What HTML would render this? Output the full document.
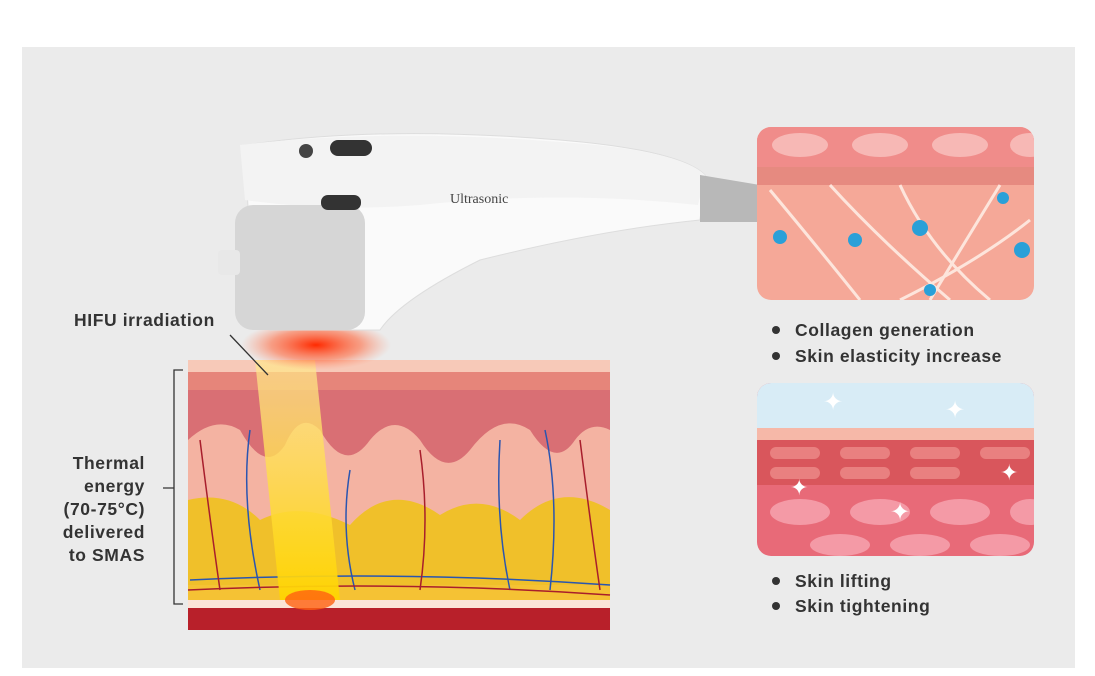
<!DOCTYPE html>
<html><head><meta charset="utf-8"><style>
body{margin:0;width:1095px;height:676px;background:#fff;position:relative;overflow:hidden;font-family:"Liberation Sans",sans-serif}
.panel{position:absolute;left:22px;top:47px;width:1053px;height:621px;background:#ebebeb}
.t{position:absolute;color:#333;font-size:17.5px;font-weight:bold;letter-spacing:0.6px}
</style></head><body>
<div class="panel"></div>
<svg width="1095" height="676" style="position:absolute;left:0;top:0">
<defs>
<radialGradient id="glow" cx="50%" cy="50%" r="50%"><stop offset="0" stop-color="#ff2a00"/><stop offset="0.6" stop-color="#ff6a40" stop-opacity="0.6"/><stop offset="1" stop-color="#ff9070" stop-opacity="0"/></radialGradient>
<linearGradient id="beam" x1="0" y1="0" x2="0" y2="1"><stop offset="0" stop-color="#ffe890" stop-opacity="0.7"/><stop offset="1" stop-color="#ffd400" stop-opacity="0.95"/></linearGradient>
<clipPath id="c1"><rect x="757" y="127" width="277" height="173" rx="14"/></clipPath>
<clipPath id="c2"><rect x="757" y="383" width="277" height="173" rx="14"/></clipPath>
</defs>
<rect x="188" y="360" width="422" height="270" fill="#f4b3a2"/>
<rect x="188" y="360" width="422" height="12" fill="#f7c9b8"/>
<rect x="188" y="372" width="422" height="18" fill="#e6857a"/>
<path d="M188 390 H610 V430 Q590 420 575 440 Q555 470 530 430 Q500 410 470 450 Q445 480 420 440 Q395 410 370 440 Q345 475 320 430 Q300 410 285 445 Q265 475 240 430 Q215 415 188 440Z" fill="#d96f74"/>
<path d="M188 500 Q230 490 260 520 Q300 500 350 525 Q390 480 440 515 Q480 490 520 520 Q560 480 610 510 V600 H188Z" fill="#f0c02a"/>
<rect x="188" y="585" width="422" height="15" fill="#f5c234"/>
<rect x="188" y="600" width="422" height="8" fill="#fbe4d8"/>
<rect x="188" y="608" width="422" height="22" fill="#b8202a"/>
<g stroke="#2a55b0" stroke-width="1.5" fill="none">
<path d="M250 430 Q240 500 260 590"/><path d="M350 470 Q340 530 355 590"/><path d="M500 440 Q495 520 510 590"/><path d="M545 430 Q560 500 550 590"/><path d="M190 580 Q400 570 610 585"/></g>
<g stroke="#a81e2c" stroke-width="1.5" fill="none">
<path d="M200 440 Q210 520 220 590"/><path d="M420 450 Q430 520 420 590"/><path d="M580 440 Q590 520 600 590"/><path d="M188 590 Q400 580 610 595"/></g>
<polygon points="255,360 315,360 340,600 280,600" fill="url(#beam)"/>
<ellipse cx="310" cy="600" rx="25" ry="10" fill="#ff6010" opacity="0.8"/>
<ellipse cx="316" cy="345" rx="75" ry="25" fill="url(#glow)"/>
<path d="M183 370 H174 V604 H183 M174 488 H163" stroke="#333" stroke-width="1.3" fill="none"/>
<line x1="230" y1="335" x2="268" y2="375" stroke="#333" stroke-width="1.3"/>
<path d="M245 145 Q380 125 560 140 Q680 150 705 175 L700 220 Q600 230 480 260 Q400 300 380 330 L270 330 L250 250Z" fill="#fafafa" stroke="#ddd"/>
<path d="M240 145 Q380 128 560 142 Q680 150 705 175 L698 205 Q560 190 420 205 Q330 212 245 200Z" fill="#f3f3f3"/>
<rect x="235" y="205" width="130" height="125" rx="18" fill="#d6d6d6"/>
<rect x="218" y="250" width="22" height="25" rx="4" fill="#e8e8e8"/>
<path d="M700 175 L760 185 L760 222 L700 222Z" fill="#b8b8b8"/>
<rect x="330" y="140" width="42" height="16" rx="8" fill="#333"/>
<circle cx="306" cy="151" r="7" fill="#444"/>
<rect x="321" y="195" width="40" height="15" rx="7" fill="#333"/>
<text x="450" y="203" font-family="Liberation Serif" font-size="14" fill="#444">Ultrasonic</text>
<g clip-path="url(#c1)">
<rect x="757" y="127" width="277" height="173" fill="#f5a898"/>
<rect x="757" y="127" width="277" height="40" fill="#f08c8a"/>
<g fill="#f7b8b5"><ellipse cx="800" cy="145" rx="28" ry="12"/><ellipse cx="880" cy="145" rx="28" ry="12"/><ellipse cx="960" cy="145" rx="28" ry="12"/><ellipse cx="1030" cy="145" rx="20" ry="12"/></g>
<rect x="757" y="167" width="277" height="18" fill="#e68a80"/>
<g stroke="#fde5dc" stroke-width="3" fill="none"><path d="M770 190 Q820 250 860 300"/><path d="M830 185 Q880 240 950 300"/><path d="M900 185 Q930 250 990 300"/><path d="M1000 185 Q960 250 930 300"/><path d="M1030 220 Q980 260 900 300"/></g>
<g fill="#2aa0d8"><circle cx="780" cy="237" r="7"/><circle cx="855" cy="240" r="7"/><circle cx="920" cy="228" r="8"/><circle cx="1003" cy="198" r="6"/><circle cx="1022" cy="250" r="8"/><circle cx="930" cy="290" r="6"/></g>
</g>
<g clip-path="url(#c2)">
<rect x="757" y="383" width="277" height="173" fill="#e86a78"/>
<rect x="757" y="383" width="277" height="45" fill="#d8ecf6"/>
<rect x="757" y="428" width="277" height="12" fill="#f6b8a8"/>
<rect x="757" y="440" width="277" height="45" fill="#d9565c"/>
<g fill="#e98080"><rect x="770" y="447" width="50" height="12" rx="6"/><rect x="840" y="447" width="50" height="12" rx="6"/><rect x="910" y="447" width="50" height="12" rx="6"/><rect x="980" y="447" width="50" height="12" rx="6"/><rect x="770" y="467" width="50" height="12" rx="6"/><rect x="840" y="467" width="50" height="12" rx="6"/><rect x="910" y="467" width="50" height="12" rx="6"/></g>
<g fill="#f49aa6"><ellipse cx="800" cy="512" rx="30" ry="13"/><ellipse cx="880" cy="512" rx="30" ry="13"/><ellipse cx="960" cy="512" rx="30" ry="13"/><ellipse cx="1030" cy="512" rx="20" ry="13"/><ellipse cx="840" cy="545" rx="30" ry="11"/><ellipse cx="920" cy="545" rx="30" ry="11"/><ellipse cx="1000" cy="545" rx="30" ry="11"/></g>
<g fill="#fff"><text x="823" y="410" font-size="24">✦</text><text x="945" y="418" font-size="24">✦</text><text x="790" y="495" font-size="22">✦</text><text x="890" y="520" font-size="24">✦</text><text x="1000" y="480" font-size="22">✦</text></g>
</g>
<g fill="#333"><circle cx="776" cy="330" r="4"/><circle cx="776" cy="356" r="4"/><circle cx="776" cy="581" r="4"/><circle cx="776" cy="606" r="4"/></g>
</svg>
<div class="t" style="left:74px;top:310px">HIFU irradiation</div>
<div class="t" style="left:50px;top:452px;width:95px;text-align:right;line-height:23px">Thermal energy (70-75°C) delivered to SMAS</div>
<div class="t" style="left:795px;top:320px">Collagen generation</div>
<div class="t" style="left:795px;top:346px">Skin elasticity increase</div>
<div class="t" style="left:795px;top:571px">Skin lifting</div>
<div class="t" style="left:795px;top:596px">Skin tightening</div>
</body></html>
